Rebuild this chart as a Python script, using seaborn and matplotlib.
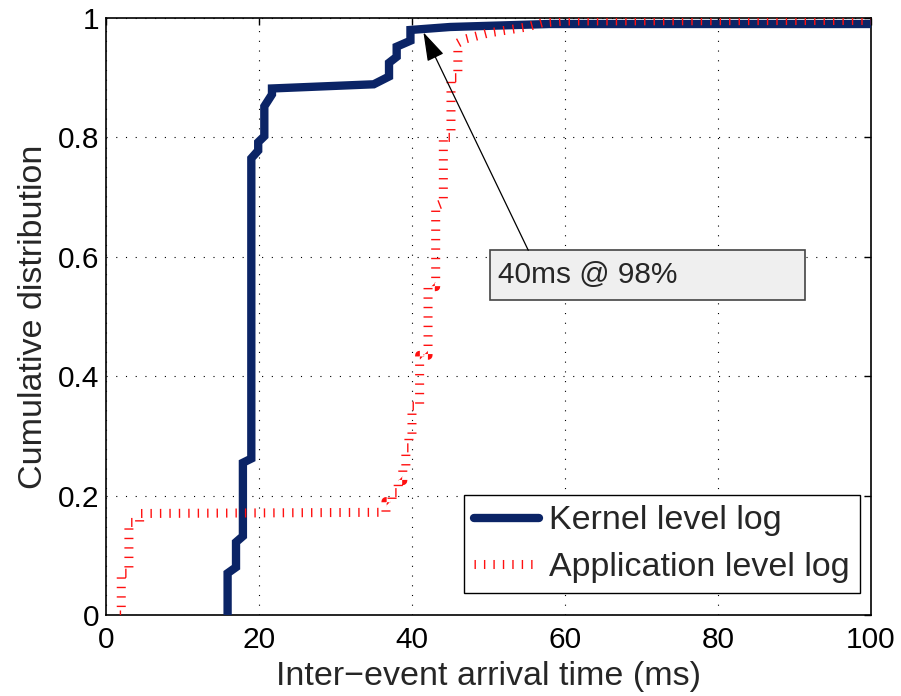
import matplotlib
matplotlib.use("Agg")
import matplotlib.pyplot as plt
import numpy as np
import pandas as pd
import seaborn as sns
from matplotlib.patches import Rectangle

# Kernel-level inter-event arrival CDF (vertices of the curve)
kernel_ms = [15.9, 15.9, 17.0, 17.0, 17.9, 17.9, 19.0, 19.0, 19.9, 19.9, 20.7, 20.7,
             21.7, 21.7, 35.0, 37.0, 37.0, 38.0, 38.0, 39.8, 39.8, 45.0, 58.0, 100.0]
kernel_cdf = [0.0, 0.070, 0.080, 0.122, 0.132, 0.255, 0.262, 0.765, 0.778, 0.792, 0.802, 0.852,
              0.872, 0.882, 0.889, 0.902, 0.925, 0.935, 0.952, 0.962, 0.980, 0.985, 0.990, 0.990]

# Application-level inter-event arrival CDF
app_ms = [1.8, 2.0, 2.0, 3.0, 3.0, 4.4, 4.4, 36.0, 36.6, 36.6, 37.4, 37.4, 38.2, 38.2,
          38.8, 38.8, 39.2, 39.2, 39.6, 39.6, 40.0, 40.0, 41.0, 41.0, 42.1, 42.1, 43.1,
          43.1, 44.1, 44.1, 45.1, 45.1, 46.0, 46.0, 47.0, 50.0, 55.0, 57.0, 60.0, 100.0]
app_cdf = [0.0, 0.0, 0.070, 0.070, 0.155, 0.155, 0.170, 0.172, 0.172, 0.190, 0.190, 0.205,
           0.205, 0.225, 0.225, 0.245, 0.245, 0.280, 0.280, 0.300, 0.300, 0.350, 0.350,
           0.435, 0.435, 0.550, 0.550, 0.685, 0.690, 0.800, 0.800, 0.900, 0.900, 0.958,
           0.965, 0.975, 0.985, 0.992, 0.995, 0.996]

x_ticks = [0, 20, 40, 60, 80, 100]
y_ticks = [0, 0.2, 0.4, 0.6, 0.8, 1.0]
y_ticklabels = ["0", "0.2", "0.4", "0.6", "0.8", "1"]

series_names = ["Kernel level log", "Application level log"]
note_text = "40ms @ 98%"
note_point = (41.5, 0.976)

sns.set_theme(style="white")
plt.rcParams["font.family"] = ["Liberation Sans", "DejaVu Sans"]
plt.rcParams["lines.scale_dashes"] = False
plt.rcParams["axes.linewidth"] = 1.2

kernel_df = pd.DataFrame({"ms": kernel_ms, "cdf": kernel_cdf})
app_df = pd.DataFrame({"ms": app_ms, "cdf": app_cdf})

fig = plt.figure(figsize=(9.01, 6.96), dpi=100)
ax = fig.add_axes([0.1176, 0.1164, 0.8491, 0.8577])

sns.lineplot(data=kernel_df, x="ms", y="cdf", sort=False, estimator=None, ax=ax,
             color="#0b2466", linewidth=6.0, label=series_names[0], zorder=3)
sns.lineplot(data=app_df, x="ms", y="cdf", sort=False, estimator=None, ax=ax,
             color="#ff1010", linewidth=6.5, label=series_names[1], zorder=4)

kline, aline = ax.lines[0], ax.lines[1]
kline.set_solid_joinstyle("miter")
aline.set_linestyle((0, (1.0, 5.8)))
aline.set_dash_capstyle("butt")

ax.set_xlim(0, 100)
ax.set_ylim(0, 1)
ax.set_xticks(x_ticks)
ax.set_yticks(y_ticks)
ax.set_yticklabels(y_ticklabels)
ax.tick_params(axis="both", which="major", direction="in", length=5, width=1.0,
               labelsize=21.5, pad=5, top=True, right=True, colors="black")
ax.tick_params(axis="x", pad=8)
ax.grid(True, color="black", linestyle=(0, (0.8, 6.2)), linewidth=0.8)
for s in ax.spines.values():
    s.set_color("black")
    s.set_visible(True)

ax.set_xlabel("Inter\u2212event arrival time (ms)", fontsize=24.5, labelpad=5)
ax.set_ylabel("Cumulative distribution", fontsize=24.5, labelpad=6)

# annotation box with arrow pointing at the kernel curve
ax.add_patch(Rectangle((50.2, 0.528), 41.2, 0.083, facecolor="#efefef",
                       edgecolor="#444444", linewidth=1.2, zorder=5))
ax.text(51.2, 0.569, note_text, fontsize=21.5, va="center", ha="left", zorder=6)
ax.annotate("", xy=note_point, xytext=(55.2, 0.611),
            arrowprops=dict(arrowstyle="-|>,head_length=0.9,head_width=0.28",
                            mutation_scale=20, lw=0.9, color="black",
                            shrinkA=0, shrinkB=0), zorder=6)

leg = ax.legend(loc="lower right", bbox_to_anchor=(0.9856, 0.0369), borderaxespad=0,
                fontsize=24.5, frameon=True, fancybox=False, framealpha=1,
                edgecolor="black", handlelength=1.9, handletextpad=0.3,
                borderpad=0.3, labelspacing=0.45)
leg.get_frame().set_linewidth(1.0)

fig.savefig("out.png", dpi=100)
